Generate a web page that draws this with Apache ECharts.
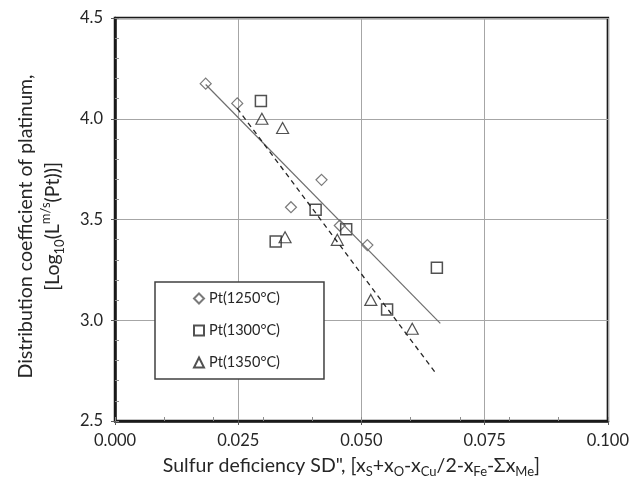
<!DOCTYPE html>
<html>
<head>
<meta charset="utf-8">
<script src="https://cdn.jsdelivr.net/npm/echarts@6/dist/echarts.min.js"></script>
<style>
    html, body { margin: 0; padding: 0; background: #fff; }
    #chart { width: 632px; height: 483px; }
</style>
</head>
<body>
<div id="chart"></div>
<script>
// 数据
const x1250 = [0.0184, 0.0248, 0.0357, 0.0419, 0.0456, 0.0512];
const y1250 = [4.174, 4.076, 3.561, 3.697, 3.470, 3.373];
const x1300 = [0.0296, 0.0326, 0.0407, 0.0469, 0.0552, 0.0653];
const y1300 = [4.088, 3.391, 3.549, 3.452, 3.053, 3.261];
const x1350 = [0.0298, 0.0340, 0.0345, 0.0451, 0.0519, 0.0603];
const y1350 = [4.000, 3.954, 3.412, 3.399, 3.101, 2.958];
// 趋势线的 x 范围
const fitRange1250 = [0.0184, 0.066];
const fitRange1350 = [0.0248, 0.0649];
const seriesNames = ['Pt(1250°C)', 'Pt(1300°C)', 'Pt(1350°C)'];
const xTicks = [0, 0.1, 0.025];
const yTicks = [2.5, 4.5, 0.5];

const Graph = function () {
    let myChart = echarts.init(document.getElementById('chart'));
    const font = 'Lato';

    const pairs = function (xs, ys) {
        return xs.map(function (x, i) { return [x, ys[i]]; });
    };
    // 线性回归
    const fitLine = function (xs, ys, range) {
        const n = xs.length;
        const mx = xs.reduce((a, b) => a + b, 0) / n;
        const my = ys.reduce((a, b) => a + b, 0) / n;
        let sxy = 0, sxx = 0;
        for (let i = 0; i < n; i++) {
            sxy += (xs[i] - mx) * (ys[i] - my);
            sxx += (xs[i] - mx) * (xs[i] - mx);
        }
        const k = sxy / sxx, b = my - k * mx;
        return range.map(function (x) { return [x, k * x + b]; });
    };

    const subStyle = { fontSize: 13, lineHeight: 14, verticalAlign: 'bottom', fontFamily: font, color: '#262626' };
    const supStyle = { fontSize: 13, lineHeight: 14, verticalAlign: 'top', fontFamily: font, color: '#262626' };

    return {
        render: function () {
            const option = {
                animation: false,
                textStyle: { fontFamily: font },
                grid: {
                    left: 115, right: 21, top: 18, bottom: 62,
                    show: true, borderColor: '#1a1a1a', borderWidth: 2.5
                },
                legend: {
                    orient: 'vertical',
                    left: 155, top: 282,
                    padding: [9, 44, 9, 38],
                    itemWidth: 10, itemHeight: 10, itemGap: 17,
                    backgroundColor: '#fff',
                    borderColor: '#404040', borderWidth: 1.5,
                    textStyle: { fontSize: 14.5, color: '#262626', fontFamily: font },
                    data: [
                        { name: seriesNames[0], icon: 'diamond' },
                        { name: seriesNames[1], icon: 'rect' },
                        { name: seriesNames[2], icon: 'triangle' }
                    ]
                },
                xAxis: [
                    {
                        type: 'value', min: xTicks[0], max: xTicks[1], interval: xTicks[2],
                        name: 'Sulfur deficiency SD", [x{sub|S}+x{sub|O}-x{sub|Cu}/2-x{sub|Fe}-Σx{sub|Me}]',
                        nameLocation: 'middle', nameGap: 32,
                        nameTextStyle: {
                            fontSize: 19.5, color: '#262626', lineHeight: 24, fontFamily: font,
                            padding: [0, 20, 0, 0],
                            rich: { sub: subStyle }
                        },
                        axisLine: { show: true, lineStyle: { color: '#1a1a1a', width: 2.5 } },
                        axisTick: { show: true, length: 4, lineStyle: { color: '#595959' } },
                        axisLabel: {
                            fontSize: 16.5, color: '#262626', margin: 11,
                            formatter: function (v) { return v.toFixed(3); }
                        },
                        splitLine: { show: true, lineStyle: { color: '#a6a6a6', width: 1 } }
                    },
                    {
                        // 次刻度
                        type: 'value', min: xTicks[0], max: xTicks[1], interval: 0.01,
                        position: 'bottom',
                        axisLine: { show: false },
                        axisTick: { show: true, inside: true, length: 4, lineStyle: { color: '#8c8c8c' } },
                        axisLabel: { show: false },
                        splitLine: { show: false }
                    }
                ],
                yAxis: [
                    {
                        type: 'value', min: yTicks[0], max: yTicks[1], interval: yTicks[2],
                        name: 'Distribution coefficient of platinum,\n[Log{sub|10}(L{sup|m/s}(Pt))]',
                        nameLocation: 'middle', nameRotate: 90, nameGap: 49,
                        nameTextStyle: {
                            fontSize: 19.5, color: '#262626', lineHeight: 27, fontFamily: font,
                            padding: [0, 14, 0, 0],
                            rich: { sub: subStyle, sup: supStyle }
                        },
                        axisLine: { show: true, lineStyle: { color: '#1a1a1a', width: 2.5 } },
                        axisTick: { show: true, length: 4, lineStyle: { color: '#595959' } },
                        axisLabel: {
                            fontSize: 16.5, color: '#262626', margin: 12,
                            formatter: function (v) { return v.toFixed(1); }
                        },
                        splitLine: { show: true, lineStyle: { color: '#a6a6a6', width: 1 } }
                    },
                    {
                        type: 'value', min: yTicks[0], max: yTicks[1], interval: 0.1,
                        position: 'left',
                        axisLine: { show: false },
                        axisTick: { show: true, inside: true, length: 4, lineStyle: { color: '#8c8c8c' } },
                        axisLabel: { show: false },
                        splitLine: { show: false }
                    }
                ],
                series: [
                    {
                        name: seriesNames[0], type: 'scatter', symbol: 'diamond', symbolSize: 11,
                        itemStyle: { color: 'transparent', borderColor: '#595959', borderWidth: 1.2 },
                        data: pairs(x1250, y1250)
                    },
                    {
                        name: seriesNames[1], type: 'scatter', symbol: 'rect', symbolSize: 11,
                        itemStyle: { color: 'transparent', borderColor: '#262626', borderWidth: 1.5 },
                        data: pairs(x1300, y1300)
                    },
                    {
                        name: seriesNames[2], type: 'scatter', symbol: 'triangle', symbolSize: [12, 11],
                        itemStyle: { color: 'transparent', borderColor: '#262626', borderWidth: 1.2 },
                        data: pairs(x1350, y1350)
                    },
                    {
                        name: 'fit1250', type: 'line', showSymbol: false, silent: true,
                        lineStyle: { color: '#6e6e6e', width: 1.2 },
                        data: fitLine(x1250, y1250, fitRange1250)
                    },
                    {
                        name: 'fit1350', type: 'line', showSymbol: false, silent: true,
                        lineStyle: { color: '#262626', width: 1.3, type: [5, 4] },
                        data: fitLine(x1350, y1350, fitRange1350)
                    }
                ]
            };
            myChart.setOption(option);
        }
    };
}();

Graph.render();
</script>
</body>
</html>
